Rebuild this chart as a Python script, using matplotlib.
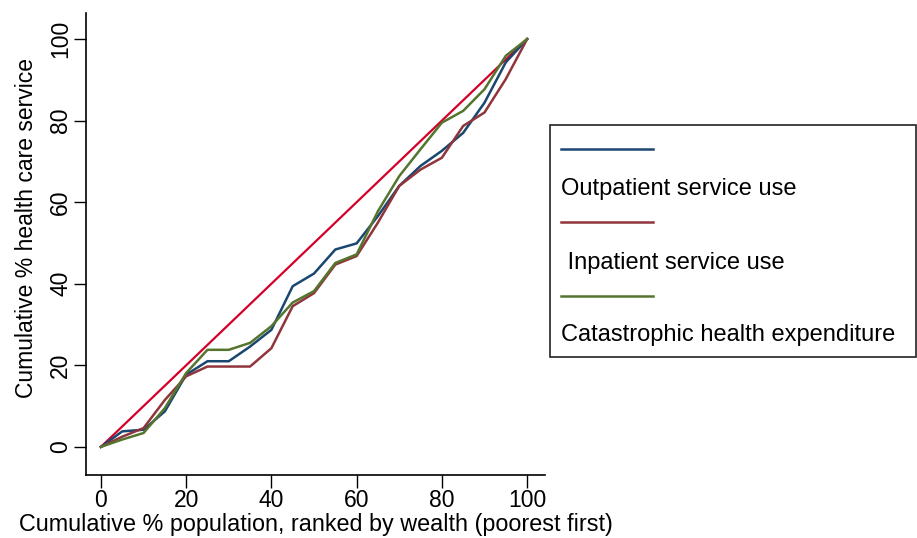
import matplotlib.pyplot as plt
from matplotlib.lines import Line2D
from matplotlib.patches import Rectangle

plt.rcParams['font.family'] = ['Liberation Sans', 'DejaVu Sans']

# cumulative % population (poorest first)
pop = [0, 5, 10, 15, 20, 25, 30, 35, 40, 45, 50, 55, 60, 65, 70, 75, 80, 85, 90, 95, 100]

outpatient = [0, 3.8, 4.2, 8.7, 17.7, 21.0, 21.0, 24.6, 28.7, 39.4, 42.5,
              48.4, 49.9, 56.6, 64.0, 68.9, 72.6, 77.0, 84.4, 94.3, 100]
inpatient = [0, 2.5, 4.6, 11.5, 17.3, 19.7, 19.7, 19.7, 24.2, 34.5, 37.7,
             44.7, 46.8, 55.0, 64.0, 68.0, 70.9, 78.7, 82.0, 90.2, 100]
catastrophic = [0, 1.8, 3.4, 9.5, 18.1, 23.8, 23.8, 25.5, 29.6, 35.4, 38.2,
                45.1, 47.2, 57.8, 66.4, 73.0, 79.5, 82.4, 87.7, 95.9, 100]
equality = [0, 100]

labels = ['Outpatient service use', ' Inpatient service use', 'Catastrophic health expenditure']
colors = ['#1a476f', '#90353b', '#55752f']

fig = plt.figure(figsize=(9.17, 5.38), dpi=100)
ax = fig.add_axes([86 / 917, 63 / 538, 459 / 917, 462 / 538])

ax.plot(equality, equality, color='#d4002a', lw=1.6)
for serie, c in zip([outpatient, inpatient, catastrophic], colors):
    ax.plot(pop, serie, color=c, lw=1.8)

ax.set_xlim(-3.5, 104.2)
ax.set_ylim(-6.9, 106.4)
ax.set_xticks([0, 20, 40, 60, 80, 100])
ax.set_yticks([0, 20, 40, 60, 80, 100])
for s in ['top', 'right']:
    ax.spines[s].set_visible(False)
ax.spines['left'].set_linewidth(1.2)
ax.spines['bottom'].set_linewidth(1.2)
ax.tick_params(length=9, width=1, labelsize=16.5, pad=1)
for t in ax.get_yticklabels():
    t.set_rotation(90)
    t.set_va('center')
ax.set_xlabel('Cumulative % population, ranked by wealth (poorest first)', fontsize=16.8, labelpad=1)
ax.set_ylabel('Cumulative % health care service', fontsize=16.5)
ax.yaxis.set_label_coords(-0.105, 0.535)

# legend box drawn in Stata style (key above label)
W, H = 917, 538
fig.add_artist(Rectangle((550 / W, 1 - 357 / H), 366 / W, 232 / H, transform=fig.transFigure,
                         fill=False, edgecolor='#222222', lw=1.2))
key_y = [149, 222, 296]
text_y = [189, 263, 335]
for ky, ty, c, lab in zip(key_y, text_y, colors, labels):
    fig.add_artist(Line2D([561 / W, 653 / W], [1 - ky / H, 1 - ky / H], color=c, lw=1.8,
                          transform=fig.transFigure))
    fig.text(561 / W, 1 - ty / H, lab, fontsize=17, va='center', ha='left')

fig.savefig('out.png', dpi=100)
